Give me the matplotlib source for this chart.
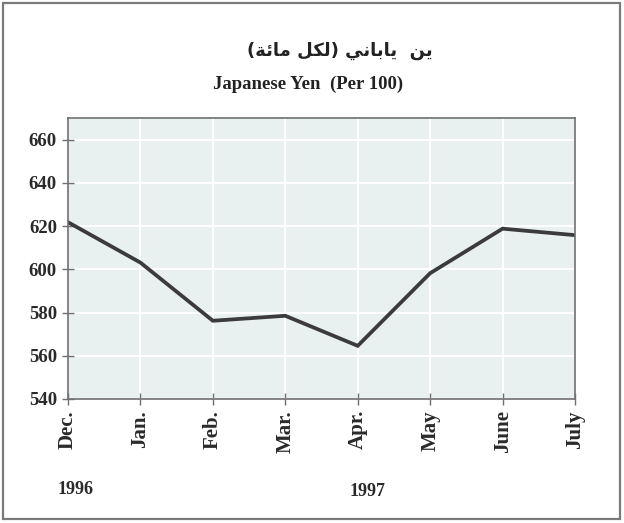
import matplotlib
matplotlib.use("Agg")
import matplotlib.pyplot as plt
from matplotlib.patches import Rectangle

# data
months = ["Dec.", "Jan.", "Feb.", "Mar.", "Apr.", "May", "June", "July"]
yen_per_100 = [621.8, 603.1, 576.2, 578.5, 564.6, 598.2, 618.8, 615.8]
y_ticks = [540, 560, 580, 600, 620, 640, 660]
years = ["1996", "1997"]

title_en = "Japanese Yen  (Per 100)"
# "ين ياباني (لكل مائة)" pre-shaped (presentation forms) in visual order
title_ar = ("(\uFE94\uFE8B\uFE8E\uFEE3 \uFEDE\uFEDC\uFEDF) "
            "\uFEF2\uFEE7\uFE8E\uFE91\uFE8E\uFEF3  \uFEE6\uFEF3")

serif = "Liberation Serif"
line_col = "#3b3a3c"
spine_col = "#707070"
text_col = "#2a2a2a"

fig = plt.figure(figsize=(6.24, 5.23), dpi=100)
fig.patch.set_facecolor("white")
fig.patches.append(Rectangle((3 / 624, 4 / 523), 617 / 624, 516 / 523,
                             transform=fig.transFigure, fill=False,
                             edgecolor="#7a7a7a", linewidth=1.6))

ax = fig.add_axes([68 / 624, 1 - 399 / 523, 507 / 624, 281 / 523])
ax.set_facecolor("#e8f0f0")
x = list(range(len(months)))
ax.plot(x, yen_per_100, color=line_col, linewidth=2.7, solid_joinstyle="miter")

ax.set_xlim(0, len(months) - 1)
ax.set_ylim(540, 670)
ax.set_yticks(y_ticks)
ax.set_xticks(x)
ax.set_xticklabels(months, rotation=90, fontfamily=serif, fontweight="bold",
                   fontsize=15, color=text_col)
ax.set_yticklabels([str(v) for v in y_ticks], fontfamily=serif,
                   fontweight="bold", fontsize=13.5, color=text_col)
ax.tick_params(direction="inout", length=8, width=1, color=spine_col, pad=4)
ax.grid(True, color="white", linewidth=1.4)
ax.set_axisbelow(True)
for s in ax.spines.values():
    s.set_color(spine_col)
    s.set_linewidth(1.2)

fig.text(340 / 624, 1 - 51 / 523, title_ar, ha="center", va="center",
         fontfamily="DejaVu Sans", fontweight="bold", fontsize=13, color="#222222")
fig.text(308 / 624, 1 - 84 / 523, title_en, ha="center", va="center",
         fontfamily=serif, fontweight="bold", fontsize=13.5, color="#222222")

fig.text(76 / 624, 1 - 489 / 523, years[0], ha="center", va="center",
         fontfamily=serif, fontweight="bold", fontsize=13, color=text_col)
fig.text(368 / 624, 1 - 492 / 523, years[1], ha="center", va="center",
         fontfamily=serif, fontweight="bold", fontsize=13, color=text_col)

fig.savefig("out.png", dpi=100)
